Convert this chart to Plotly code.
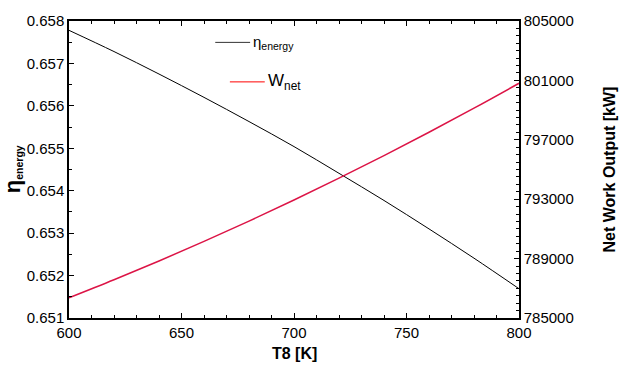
import plotly.graph_objects as go

# Data
T8 = [600, 620, 640, 660, 680, 700, 720, 740, 760, 780, 800]
eta_energy = [0.65778, 0.65728, 0.65675, 0.65620, 0.65563, 0.65504,
              0.65441, 0.65377, 0.65310, 0.65241, 0.65169]
W_net = [786360, 787575, 788840, 790157, 791526, 792945,
         794415, 795937, 797509, 799132, 800806]

x_ticks = [600, 650, 700, 750, 800]
y_ticks = [0.651, 0.652, 0.653, 0.654, 0.655, 0.656, 0.657, 0.658]
y2_ticks = [785000, 789000, 793000, 797000, 801000, 805000]

FONT = "Liberation Sans, Arial, sans-serif"

fig = go.Figure()
fig.add_trace(go.Scatter(x=T8, y=eta_energy, mode="lines", line=dict(color="black", width=1, shape="spline"),
                         showlegend=False, yaxis="y"))
fig.add_trace(go.Scatter(x=T8, y=W_net, mode="lines", line=dict(color="#dc1446", width=1.5, shape="spline"),
                         showlegend=False, yaxis="y2"))

axis_common = dict(showline=True, linecolor="black", linewidth=1.5, ticks="inside",
                   tickcolor="black", tickwidth=1, showgrid=False, zeroline=False,
                   tickfont=dict(family=FONT, size=15, color="black"))

fig.update_layout(
    width=620, height=367,
    margin=dict(l=69, r=101, t=19, b=49),
    paper_bgcolor="white", plot_bgcolor="white",
    font=dict(family=FONT, color="black"),
    xaxis=dict(range=[600, 800], tickvals=x_ticks, ticklen=5, mirror="ticks",
               minor=dict(ticks="inside", dtick=10, ticklen=3, tickcolor="black", showgrid=False),
               **axis_common),
    yaxis=dict(range=[0.651, 0.658], tickvals=y_ticks, tickformat=".3f", ticklen=5,
               minor=dict(ticks="inside", dtick=0.0005, ticklen=3, tickcolor="black", showgrid=False),
               **axis_common),
    yaxis2=dict(range=[785000, 805000], tickvals=y2_ticks, tickformat="d", ticklen=5,
                overlaying="y", side="right",
                minor=dict(ticks="inside", dtick=500, ticklen=3, tickcolor="black", showgrid=False),
                **axis_common),
)

# Axis titles
fig.add_annotation(xref="paper", yref="paper", x=0.5, y=-0.12, yanchor="middle", showarrow=False,
                   text="<b>T8 [K]</b>", font=dict(family=FONT, size=16, color="black"))
fig.add_annotation(xref="paper", yref="paper", x=-0.125, y=0.5, showarrow=False, textangle=-90,
                   xanchor="center", yanchor="middle",
                   text="<b><span style='font-size:22px'>η</span><sub>energy</sub></b>",
                   font=dict(family=FONT, size=15, color="black"))
fig.add_annotation(xref="paper", yref="paper", x=1.2, y=0.5, showarrow=False, textangle=-90,
                   xanchor="center", yanchor="middle",
                   text="<b>Net Work Output [kW]</b>", font=dict(family=FONT, size=16, color="black"))

# Custom legend
fig.add_shape(type="line", xref="x", yref="paper", x0=665, x1=680.5, y0=0.928, y1=0.928,
              line=dict(color="#333333", width=1))
fig.add_annotation(xref="x", yref="paper", x=681, y=0.928, xanchor="left", yanchor="middle", showarrow=False,
                   text="η<sub>energy</sub>", font=dict(family=FONT, size=15, color="black"))
fig.add_shape(type="line", xref="x", yref="paper", x0=671.5, x1=687, y0=0.795, y1=0.795,
              line=dict(color="red", width=1))
fig.add_annotation(xref="x", yref="paper", x=687.5, y=0.795, xanchor="left", yanchor="middle", showarrow=False,
                   text="W<sub>net</sub>", font=dict(family=FONT, size=17, color="black"))

fig.write_html("out.html", config={"displayModeBar": False},
               post_script="document.body.style.margin='0';")
